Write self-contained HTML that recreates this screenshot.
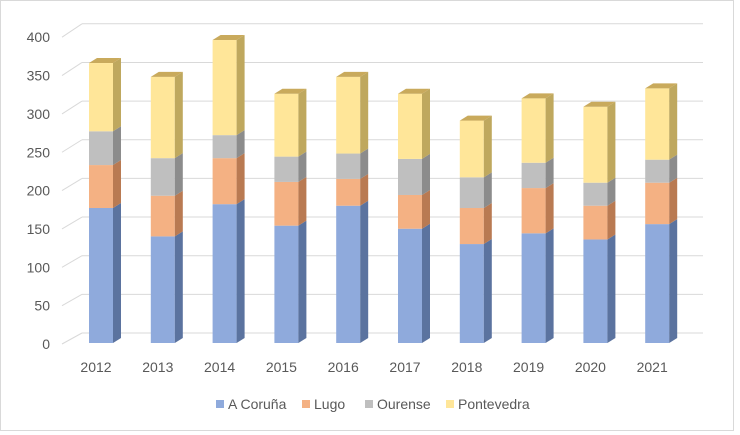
<!DOCTYPE html>
<html><head><meta charset="utf-8"><style>
html,body{margin:0;padding:0;background:#fff;}
svg{display:block;font-family:"Liberation Sans",sans-serif;}
</style></head><body>
<svg id="chart" width="740" height="435">
<rect x="0.5" y="0.5" width="733" height="430" fill="#fff" stroke="#d9d9d9"/>
<g id="grid"></g><g id="bars"></g><g id="xlabels"></g><g id="legend"></g>
</svg>
<script>
const categories=["2012","2013","2014","2015","2016","2017","2018","2019","2020","2021"];
const seriesNames=["A Coruña","Lugo","Ourense","Pontevedra"];
const coruna=[176,139,181,153,179,149,129,143,135,155];
const lugo=[56,53,60,57,35,44,47,59,44,54];
const ourense=[44,49,30,33,33,47,40,33,30,30];
const pontevedra=[89,106,124,82,100,85,74,84,99,93];
const yTicks=[0,50,100,150,200,250,300,350,400];
const series=[coruna,lugo,ourense,pontevedra];
const front=["#8faadc","#f4b183","#bfbfbf","#ffe699"];
const side=["#5b739f","#b97a52","#8c8c8c","#bfa85e"];
const topC=["#7f95c0","#d49a70","#a8a8a8","#c9aa5c"];
const NS="http://www.w3.org/2000/svg";
function el(t,a,p){const e=document.createElementNS(NS,t);for(const k in a)e.setAttribute(k,a[k]);p.appendChild(e);return e;}
const yF=v=>343-v*0.767;
const yB=v=>333-v*0.773;
const xC=i=>101+61.8*i;
const BW=24,DX=8,DY=5;
const grid=document.getElementById('grid');
yTicks.forEach(t=>{
  const g=el('line',{x1:82,x2:703,y1:yB(t),y2:yB(t),stroke:'#d9d9d9','stroke-width':1},grid);
  
  
  const d=el('line',{x1:62,x2:82,y1:yF(t)+1,y2:yB(t),stroke:'#d9d9d9','stroke-width':1},grid);
  
  
  const l=el('text',{x:50,y:yF(t)+6,'text-anchor':'end','font-size':14,fill:'#595959'},grid);
  l.textContent=t;
  
  
});
const bars=document.getElementById('bars');
categories.forEach((c,i)=>{
  let base=0;const x0=xC(i)-BW/2;
  series.forEach((s,k)=>{
    const v=s[i];const y1=yF(base),y2=yF(base+v);
    const f=el('rect',{x:x0,y:y2,width:BW,height:y1-y2,fill:front[k]},bars);
    
    
    const sd=el('polygon',{points:`${x0+BW},${y1} ${x0+BW+DX},${y1-DY} ${x0+BW+DX},${y2-DY} ${x0+BW},${y2}`,fill:side[k]},bars);
    
    
    base+=v;
  });
  const yt=yF(base);
  const tp=el('polygon',{points:`${x0},${yt} ${x0+DX},${yt-DY} ${x0+BW+DX},${yt-DY} ${x0+BW},${yt}`,fill:topC[3]},bars);
  
  
  const t=el('text',{x:xC(i)-5,y:372,'text-anchor':'middle','font-size':14,fill:'#595959'},document.getElementById('xlabels'));
  t.textContent=c;
  
  
});
const lg=document.getElementById('legend');
const lx=[216,302,365,446];
seriesNames.forEach((n,k)=>{
  const r=el('rect',{x:lx[k],y:400,width:8,height:8,fill:front[k]},lg);
  
  
  const t=el('text',{x:lx[k]+12,y:409,'font-size':14,fill:'#595959'},lg);
  t.textContent=n;
  
  
});
</script>
</body></html>
